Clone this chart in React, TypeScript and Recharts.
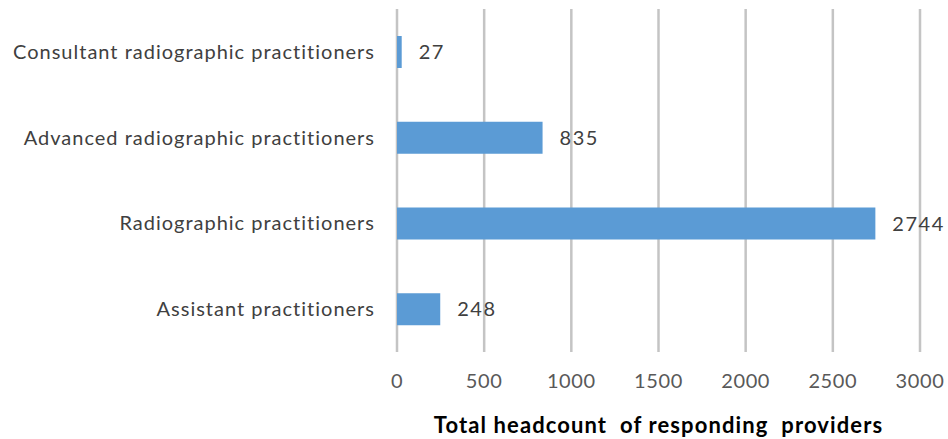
import { BarChart, Bar, XAxis, YAxis, CartesianGrid, LabelList } from "recharts";

const categories = [
  "Consultant radiographic practitioners",
  "Advanced radiographic practitioners",
  "Radiographic practitioners",
  "Assistant practitioners",
];
const headcount = [27, 835, 2744, 248];
const xTicks = [0, 500, 1000, 1500, 2000, 2500, 3000];

const data = categories.map((name, i) => ({ name, value: headcount[i] }));

const FONT = "Lato, 'Open Sans', sans-serif";

export default function App() {
  return (
    <div style={{ fontFamily: FONT, padding: "8px 0 0 8px", width: 940, height: 431 }}>
      <style>{"body{margin:0}"}</style>
      <BarChart
        width={940}
        height={431}
        data={data}
        layout="vertical"
        margin={{ top: 1, right: 28, bottom: 0, left: 0 }}
      >
        <CartesianGrid horizontal={false} stroke="#c4c4c4" strokeWidth={2.5} />
        <XAxis
          type="number"
          domain={[0, 3000]}
          ticks={xTicks}
          axisLine={false}
          tickLine={false}
          tickSize={0}
          tickMargin={22}
          height={87}
          tick={{ fill: "#595959", fontSize: 20, fontFamily: FONT, letterSpacing: 0.6 }}
          label={{
            value: "Total headcount\u00a0 of responding\u00a0 providers",
            position: "insideBottom",
            offset: 6,
            fill: "#000000",
            fontSize: 22,
            fontWeight: 700,
            fontFamily: FONT,
            letterSpacing: 1.1,
          }}
        />
        <YAxis
          type="category"
          dataKey="name"
          width={389}
          axisLine={false}
          tickLine={false}
          tickSize={0}
          tickMargin={22}
          tick={{ fill: "#404040", fontSize: 20, fontFamily: FONT, letterSpacing: 1 }}
        />
        <Bar dataKey="value" fill="#5b9bd5" barSize={32} isAnimationActive={false}>
          <LabelList
            dataKey="value"
            position="right"
            offset={17}
            fill="#404040"
            fontSize={20}
            fontFamily={FONT}
            letterSpacing={1.5}
          />
        </Bar>
      </BarChart>
    </div>
  );
}
